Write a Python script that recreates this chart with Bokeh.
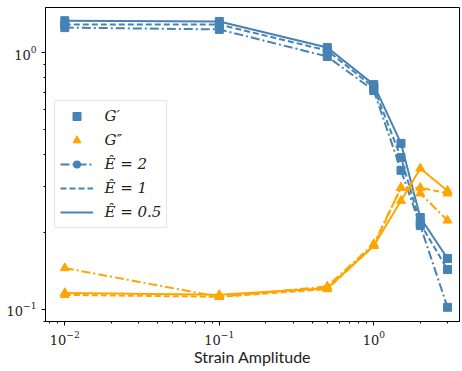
from bokeh.plotting import figure
from bokeh.models import Legend, LegendItem, Range1d, FixedTicker, LogTickFormatter
from bokeh.embed import file_html
from bokeh.resources import INLINE

strain = [0.01, 0.1, 0.5, 1.0, 1.5, 2.0, 3.0]

gp_e2 = [1.25, 1.23, 0.965, 0.711, 0.348, 0.212, 0.102]
gp_e1 = [1.285, 1.285, 1.018, 0.731, 0.39, 0.216, 0.143]
gp_e05 = [1.33, 1.32, 1.046, 0.75, 0.443, 0.228, 0.158]

gpp_e2 = [0.145, 0.112, 0.123, 0.18, 0.298, 0.283, 0.222]
gpp_e1 = [0.114, 0.112, 0.12, 0.177, 0.298, 0.298, 0.283]
gpp_e05 = [0.116, 0.114, 0.121, 0.177, 0.265, 0.354, 0.29]

y_major = [0.1, 1.0]
y_minor = [0.09, 0.2, 0.3, 0.4, 0.5, 0.6, 0.7, 0.8, 0.9]
x_major = [0.01, 0.1, 1.0]
x_minor = [0.008, 0.009, 0.02, 0.03, 0.04, 0.05, 0.06, 0.07, 0.08, 0.09,
           0.2, 0.3, 0.4, 0.5, 0.6, 0.7, 0.8, 0.9, 2.0, 3.0]

labels = ["G\u2032", "G\u2033", "\u00ca = 2", "\u00ca = 1", "\u00ca = 0.5"]

BLUE = "#4682b4"
ORANGE = "#ffa500"

p = figure(width=462, height=371, x_axis_type="log", y_axis_type="log",
           x_range=Range1d(0.0075, 3.587), y_range=Range1d(0.0898, 1.497),
           output_backend="svg", toolbar_location=None,
           min_border_left=45, min_border_right=3, min_border_top=7, min_border_bottom=50)
p.frame_width = 414
p.frame_height = 314

p.xgrid.visible = False
p.ygrid.visible = False
p.outline_line_color = "black"
p.outline_line_alpha = 1
p.outline_line_width = 1
p.background_fill_color = "white"
p.border_fill_color = "white"

p.yaxis.ticker = FixedTicker(ticks=y_major, minor_ticks=y_minor)
p.xaxis.ticker = FixedTicker(ticks=x_major, minor_ticks=x_minor)
p.xaxis.formatter = LogTickFormatter()
p.yaxis.formatter = LogTickFormatter()

for ax in (p.xaxis[0], p.yaxis[0]):
    ax.axis_line_color = "black"
    ax.major_tick_line_color = "black"
    ax.minor_tick_line_color = "black"
    ax.major_tick_out = 4
    ax.major_tick_in = 0
    ax.minor_tick_out = 2
    ax.minor_tick_in = 0
    ax.major_label_text_font = "DejaVu Serif"
    ax.major_label_text_font_size = "13px"
    ax.major_label_text_color = "#222222"

p.xaxis.axis_label = "Strain Amplitude"
p.xaxis.axis_label_text_font = "Lato"
p.xaxis.axis_label_text_font_size = "16px"
p.xaxis.axis_label_text_font_style = "normal"
p.xaxis.axis_label_text_color = "#222222"
p.xaxis.axis_label_standoff = -1

dashes = {"e2": "9 3 2 3", "e1": "6 3", "e05": "solid"}

for key, gp in (("e2", gp_e2), ("e1", gp_e1), ("e05", gp_e05)):
    p.line(strain, gp, line_color=BLUE, line_width=2, line_dash=dashes[key])
    p.scatter(strain, gp, marker="square", size=8, fill_color=BLUE, line_color=BLUE)
for key, gpp in (("e2", gpp_e2), ("e1", gpp_e1), ("e05", gpp_e05)):
    p.line(strain, gpp, line_color=ORANGE, line_width=2, line_dash=dashes[key])
    p.scatter(strain, gpp, marker="triangle", size=9, fill_color=ORANGE, line_color=ORANGE)

# legend proxies (outside visible range)
far_x = [1e-6, 2e-6]
far_y = [1e-6, 2e-6]
r_sq = p.scatter(far_x, far_y, marker="square", size=7, fill_color=BLUE, line_color=BLUE)
r_tr = p.scatter(far_x, far_y, marker="triangle", size=8, fill_color=ORANGE, line_color=ORANGE)
r_l2 = p.line(far_x, far_y, line_color=BLUE, line_width=2, line_dash=dashes["e2"])
r_d2 = p.scatter(far_x, far_y, marker="circle", size=3, fill_color=BLUE, line_color=None)
r_l1 = p.line(far_x, far_y, line_color=BLUE, line_width=2, line_dash=dashes["e1"])
r_l05 = p.line(far_x, far_y, line_color=BLUE, line_width=2)

legend = Legend(items=[
    LegendItem(label=labels[0], renderers=[r_sq]),
    LegendItem(label=labels[1], renderers=[r_tr]),
    LegendItem(label=labels[2], renderers=[r_l2, r_d2]),
    LegendItem(label=labels[3], renderers=[r_l1]),
    LegendItem(label=labels[4], renderers=[r_l05]),
], location=(8.5, 93))
legend.label_text_font = "DejaVu Serif"
legend.label_text_font_style = "italic"
legend.label_text_font_size = "15px"
legend.label_text_color = "#222222"
legend.glyph_width = 33
legend.glyph_height = 20
legend.label_height = 20
legend.label_standoff = 12
legend.spacing = 4
legend.padding = 5
legend.margin = 0
legend.border_line_color = "#cccccc"
legend.border_line_width = 1
legend.background_fill_alpha = 0.8
p.add_layout(legend)

open("out.html", "w").write(file_html(p, INLINE))
